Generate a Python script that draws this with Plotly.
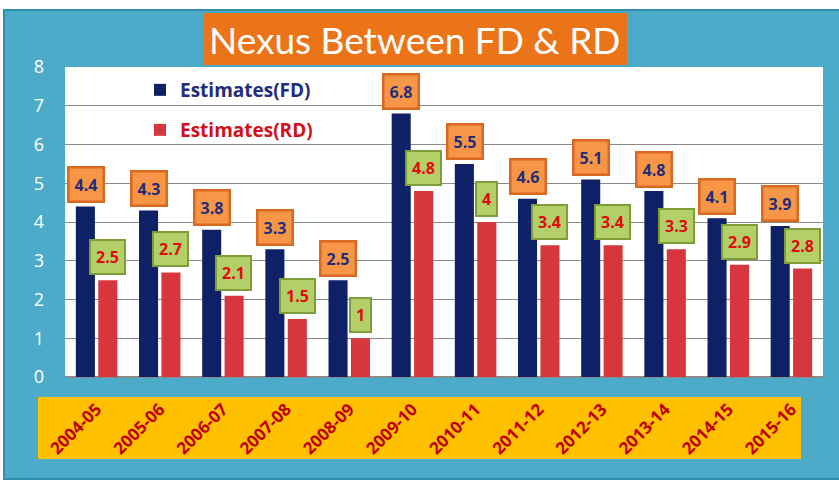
import plotly.graph_objects as go

# ---- data ----
years = ["2004-05", "2005-06", "2006-07", "2007-08", "2008-09", "2009-10",
         "2010-11", "2011-12", "2012-13", "2013-14", "2014-15", "2015-16"]
fd_values = [4.4, 4.3, 3.8, 3.3, 2.5, 6.8, 5.5, 4.6, 5.1, 4.8, 4.1, 3.9]
rd_values = [2.5, 2.7, 2.1, 1.5, 1.0, 4.8, 4.0, 3.4, 3.4, 3.3, 2.9, 2.8]
y_ticks = [0, 1, 2, 3, 4, 5, 6, 7, 8]

W, H = 839, 480
L, R, T, B = 65, 823, 67, 377  # plot area in pixels

NAVY = "#0E2167"
RED = "#D7373C"
FRAME = "#4BABC8"
YELLOW = "#FFC000"
ORANGE = "#F79646"
GREEN = "#B3CF68"


def px(x):
    return (x - L) / (R - L)


def py(y):
    return (B - y) / (B - T)


fig = go.Figure()
fig.add_trace(go.Bar(
    x=years, y=fd_values, name="<span style='color:#1F2D7B'>Estimates(FD)</span>",
    marker=dict(color=NAVY, line=dict(width=0)), legend="legend"))
fig.add_trace(go.Bar(
    x=years, y=rd_values, name="<span style='color:#D0101A'>Estimates(RD)</span>",
    marker=dict(color=RED, line=dict(width=0)), legend="legend2"))

# value boxes above each bar
annotations = []
for yr, v in zip(years, fd_values):
    annotations.append(dict(
        x=yr, y=v, xref="x", yref="y", text=f"{v:g}", showarrow=False,
        xshift=-11, yshift=22, yanchor="middle",
        font=dict(family="Open Sans", size=16, color="#1F2D7B", weight="bold"),
        bgcolor=ORANGE, bordercolor="#D8691F", borderwidth=2.5, borderpad=5))
for yr, v in zip(years, rd_values):
    annotations.append(dict(
        x=yr, y=v, xref="x", yref="y", text=f"{v:g}", showarrow=False,
        xshift=11, yshift=23, yanchor="middle",
        font=dict(family="Open Sans", size=16, color="#E00A10", weight="bold"),
        bgcolor=GREEN, bordercolor="#7E9C3A", borderwidth=2, borderpad=5))

# chart title on its orange banner
annotations.append(dict(
    x=px(415), y=py(39), xref="paper", yref="paper",
    text="Nexus Between FD &amp; RD", showarrow=False,
    font=dict(family="Lato", size=37, color="white"),
    xanchor="center", yanchor="middle"))

shapes = [
    # blue frame
    dict(type="rect", xref="paper", yref="paper",
         x0=px(4), x1=px(845), y0=py(479), y1=py(10),
         fillcolor=FRAME, line=dict(color="#2F8FAA", width=2), layer="below"),
    # white plotting surface
    dict(type="rect", xref="paper", yref="paper",
         x0=0, x1=1, y0=0, y1=1,
         fillcolor="white", line=dict(width=0), layer="below"),
    # yellow band behind the year labels
    dict(type="rect", xref="paper", yref="paper",
         x0=px(38), x1=px(801), y0=py(459), y1=py(397),
         fillcolor=YELLOW, line=dict(width=0), layer="below"),
    # orange title banner
    dict(type="rect", xref="paper", yref="paper",
         x0=px(204), x1=px(627), y0=py(65), y1=py(13),
         fillcolor="#EC7418", line=dict(width=0), layer="below"),
]

legend_font = dict(family="Open Sans", size=19, weight="bold")

fig.update_layout(
    width=W, height=H,
    margin=dict(l=L, r=W - R, t=T, b=H - B, pad=0),
    paper_bgcolor="white", plot_bgcolor="white",
    barmode="group", bargap=0.29, bargroupgap=0.15,
    showlegend=True,
    legend=dict(x=px(140), y=py(90), xanchor="left", yanchor="middle",
                bgcolor="rgba(0,0,0,0)", font=legend_font),
    legend2=dict(x=px(140), y=py(130), xanchor="left", yanchor="middle",
                 bgcolor="rgba(0,0,0,0)", font=legend_font),
    shapes=shapes,
    annotations=annotations,
    xaxis=dict(
        type="category", tickangle=-45, ticklabelstandoff=18,
        showgrid=False, showline=False,
        tickfont=dict(family="Open Sans", size=17, color="#C00000", weight="bold"),
        categoryorder="array", categoryarray=years),
    yaxis=dict(
        range=[0, 8], tickvals=y_ticks, showgrid=True, gridcolor="#8A8A8A",
        gridwidth=1, zeroline=True, zerolinecolor="#8A8A8A", showline=False,
        ticklabelstandoff=20,
        tickfont=dict(family="Open Sans", size=18, color="white")),
)

fig.write_html("out.html")
